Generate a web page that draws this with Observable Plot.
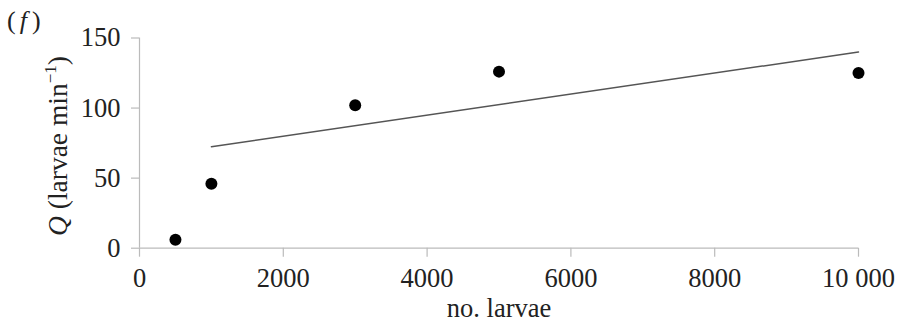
<!DOCTYPE html>
<html><head><meta charset="utf-8">
<script src="https://cdn.jsdelivr.net/npm/d3@7"></script>
<script src="https://cdn.jsdelivr.net/npm/@observablehq/plot@0.6"></script>
<style>body{margin:0;background:#fff;} #chart svg{display:block;}</style>
</head><body><div id="chart"></div>
<script>
const larvae = [500, 1000, 3000, 5000, 10000];
const Qvals = [6, 46, 102, 126, 125];
const fitX = [1000, 10000];
const fitY = [72.4, 140];
const xTicks = [0, 2000, 4000, 6000, 8000, 10000];
const xTickLabels = ["0", "2000", "4000", "6000", "8000", "10 000"];
const yTicks = [0, 50, 100, 150];
const xLabel = "no. larvae";

const points = larvae.map((x, i) => ({x, y: Qvals[i]}));
const fit = fitX.map((x, i) => ({x, y: fitY[i]}));

const fontSize = 26.5;
const plot = Plot.plot({
  width: 900, height: 333,
  marginLeft: 139, marginRight: 42, marginTop: 37.5, marginBottom: 85.3,
  x: {domain: [0, 10000]},
  y: {domain: [0, 150]},
  style: {fontFamily: "Liberation Serif", fontSize: fontSize + "px", color: "#222", background: "#fff"},
  marks: [
    Plot.ruleY([0], {stroke: "#bbb", strokeWidth: 1.2}),
    Plot.ruleX([0], {stroke: "#bbb", strokeWidth: 1.2}),
    Plot.axisX({ticks: xTicks, tickFormat: d => xTickLabels[xTicks.indexOf(d)], tickSize: 9, tickPadding: 11, stroke: "#bbb", strokeWidth: 1.2, fill: "#222", label: null}),
    Plot.axisY({ticks: yTicks, tickSize: 8, tickPadding: 11, stroke: "#bbb", strokeWidth: 1.2, fill: "#222", label: null}),
    Plot.text([xLabel], {frameAnchor: "bottom", lineAnchor: "bottom", dy: 69, fill: "#222", fontSize: fontSize}),
    Plot.line(fit, {x: "x", y: "y", stroke: "#555", strokeWidth: 1.5}),
    Plot.dot(points, {x: "x", y: "y", r: 6, fill: "#000", stroke: "none"})
  ]
});
document.getElementById("chart").appendChild(plot);

const svg = d3.select(plot);
const yl = svg.append("text")
  .attr("transform", "translate(67,146) rotate(-90)")
  .attr("text-anchor", "middle")
  .style("font-family", "Liberation Serif")
  .style("font-size", "27.5px")
  .attr("fill", "#222");
yl.append("tspan").style("font-style", "italic").text("Q");
yl.append("tspan").text(" (larvae min");
yl.append("tspan").style("font-size", "17px").attr("dy", -11).text("−1");
yl.append("tspan").attr("dy", 11).text(")");

const fl = svg.append("text")
  .attr("x", 7).attr("y", 29)
  .attr("text-anchor", "start")
  .style("font-family", "Liberation Serif")
  .style("font-size", "26px")
  .attr("fill", "#222");
fl.append("tspan").text("(");
fl.append("tspan").attr("dx", 4).style("font-style", "italic").text("f");
fl.append("tspan").attr("dx", 5).text(")");
</script>
</body></html>
